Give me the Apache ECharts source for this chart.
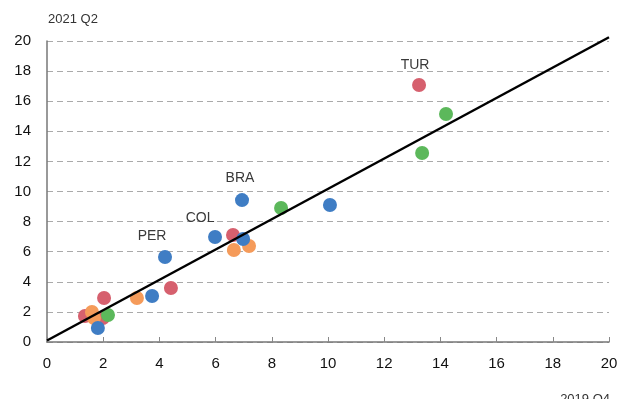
<!DOCTYPE html>
<html>
<head>
<meta charset="utf-8">
<script src="https://cdn.jsdelivr.net/npm/echarts@6/dist/echarts.min.js"></script>
<style>
html,body{margin:0;padding:0;background:#fff;}
#c{width:624px;height:399px;}
</style>
</head>
<body>
<div id="c"></div>
<script>
var xTicks = [0, 2, 4, 6, 8, 10, 12, 14, 16, 18, 20];
var yTicks = [0, 2, 4, 6, 8, 10, 12, 14, 16, 18, 20];
var xTitle = '2019 Q4';
var yTitle = '2021 Q2';

// red group
var redX = [13.24, 6.62, 4.41, 2.03, 1.99, 1.35];
var redY = [17.08, 7.11, 3.59, 2.92, 1.59, 1.73];
var redNames = ['TUR', '', '', '', '', ''];
// blue group
var blueX = [6.94, 5.98, 6.98, 4.20, 3.74, 1.81, 10.07];
var blueY = [9.43, 6.98, 6.84, 5.65, 3.06, 0.93, 9.10];
var blueNames = ['BRA', 'COL', '', 'PER', '', '', ''];
// orange group
var orangeX = [6.65, 7.19, 3.20, 1.60, 1.67];
var orangeY = [6.11, 6.38, 2.92, 1.99, 1.59];
// green group
var greenX = [14.20, 13.35, 8.33, 2.17];
var greenY = [15.15, 12.56, 8.90, 1.79];
// fitted line
var lineX = [0, 20];
var lineY = [0.1, 20.25];

var labelOffsets = { TUR: [-4, -20], BRA: [-2, -22], COL: [-15, -19], PER: [-13, -21] };

function pts(xs, ys, names) {
  return xs.map(function (x, i) {
    var item = { value: [x, ys[i]] };
    var n = names ? names[i] : '';
    if (n) {
      item.name = n;
      item.label = {
        show: true, position: 'inside', formatter: n,
        offset: labelOffsets[n], color: '#3a3a3a', fontSize: 14,
        fontFamily: 'Liberation Sans, Arial, sans-serif'
      };
    }
    return item;
  });
}

var font = 'Liberation Sans, Arial, sans-serif';
var chart = echarts.init(document.getElementById('c'), null, { renderer: 'canvas' });
var sym = 14;
chart.setOption({
  animation: false,
  grid: { left: 47, right: 15, top: 41, bottom: 57, containLabel: false },
  xAxis: {
    type: 'value', min: xTicks[0], max: xTicks[xTicks.length - 1], interval: 2,
    axisLine: { show: true, lineStyle: { color: '#777', width: 1.5 } },
    axisTick: { show: true, inside: true, length: 5, lineStyle: { color: '#888' } },
    axisLabel: { color: '#111', fontSize: 15, margin: 14, fontFamily: font },
    splitLine: { show: false }
  },
  yAxis: {
    type: 'value', min: yTicks[0], max: yTicks[yTicks.length - 1], interval: 2,
    axisLine: { show: true, lineStyle: { color: '#777', width: 1.5 } },
    axisTick: { show: false },
    axisLabel: { color: '#111', fontSize: 15, margin: 16, fontFamily: font },
    splitLine: { show: true, lineStyle: { color: '#aaa', type: [6, 4], width: 1 } }
  },
  graphic: [
    { type: 'text', left: 48, top: 13, style: { text: yTitle, fill: '#333', font: '13px ' + font } },
    { type: 'text', right: 14, top: 393, style: { text: xTitle, fill: '#333', font: '13px ' + font } }
  ],
  series: [
    { type: 'scatter', symbolSize: sym, itemStyle: { color: '#d6606e', opacity: 1 }, data: pts(redX, redY, redNames), z: 2 },
    { type: 'scatter', symbolSize: sym, itemStyle: { color: '#f59b5a', opacity: 1 }, data: pts(orangeX, orangeY), z: 3 },
    { type: 'scatter', symbolSize: sym, itemStyle: { color: '#3f7dc4', opacity: 1 }, data: pts(blueX, blueY, blueNames), z: 4 },
    { type: 'scatter', symbolSize: sym, itemStyle: { color: '#5cb85b', opacity: 1 }, data: pts(greenX, greenY), z: 5 },
    { type: 'line', clip: false, symbol: 'none', z: 10,
      lineStyle: { color: '#000', width: 2.5 },
      data: lineX.map(function (x, i) { return [x, lineY[i]]; }) }
  ]
});
</script>
</body>
</html>
